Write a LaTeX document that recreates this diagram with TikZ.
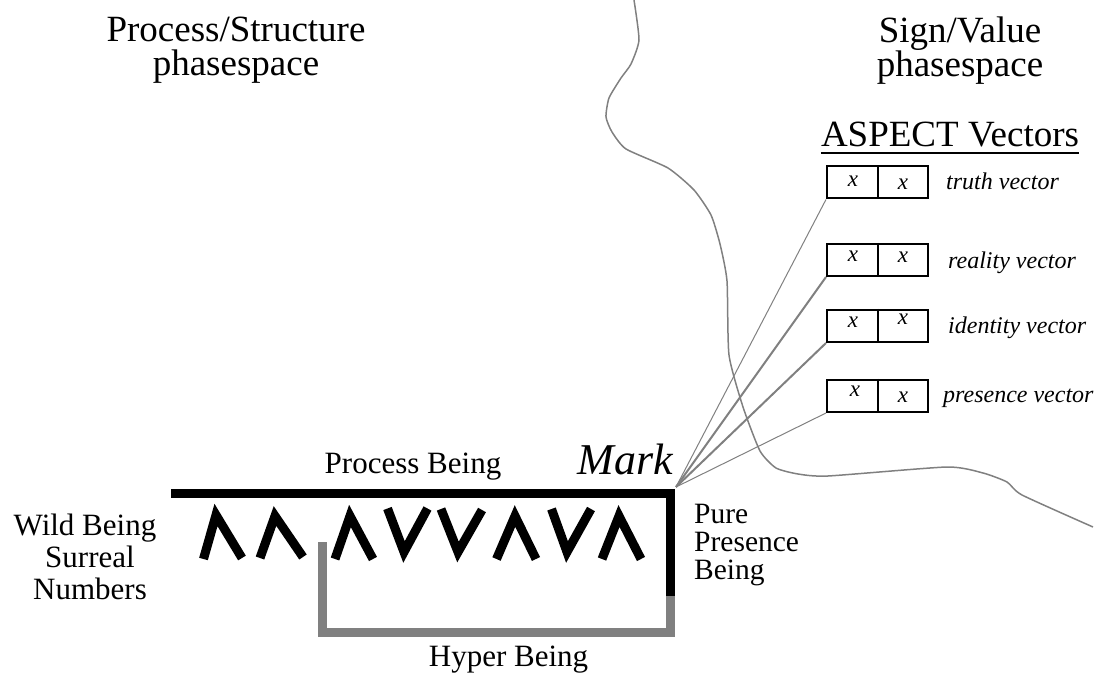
\documentclass[tikz,border=0pt]{standalone}
\usepackage{fontspec}
\setmainfont{Liberation Serif}
\begin{document}
\definecolor{lg}{gray}{0.5}
\begin{tikzpicture}[x=1pt,y=-1pt,
  head/.style={inner sep=0pt, anchor=base, font=\fontsize{37}{37}\selectfont},
  txt/.style={inner sep=0pt, anchor=base, font=\fontsize{31}{31}\selectfont},
  vlab/.style={inner sep=0pt, anchor=base west, font=\fontsize{24}{24}\selectfont\itshape},
  xv/.style={inner sep=0pt, anchor=base, font=\fontsize{23}{23}\selectfont\itshape},
  vbox/.style={draw, line width=2pt, minimum width=101pt, minimum height=32pt, inner sep=0pt},
  chev/.style={line width=9pt, line join=miter, line cap=butt},
  barline/.style={line width=9pt, line join=miter, line cap=butt},
  wave/.style={lg, line width=1.5pt, line join=round},
  conn/.style={lg}
]
\useasboundingbox (0,0) rectangle (1104,676);

% headers
\node[head] (ps1) at (236,42) {Process/Structure};
\node[head] (ps2) at (236,76) {phasespace};
\node[head] (sv1) at (960,43) {Sign/Value};
\node[head] (sv2) at (960,77) {phasespace};
\node[head] (asp) at (950,147) {ASPECT Vectors};
\draw[line width=2.3pt] ([yshift=-6pt]asp.base west) -- ([yshift=-6pt]asp.base east);

% wavy boundary
\draw[wave] plot[smooth, tension=0.35] coordinates {
  (634,0) (639,40) (631,64) (621,78) (609,98) (606,117) (612,132) (626,149)
  (668,168) (694,190) (711,215) (720,244) (727,281) (729,355) (743,407)
  (760,451) (776,468) (798,474) (828,476) (947,467) (983,473) (1007,482)
  (1022,495) (1093,527)};

% vector boxes
\node[vbox] (b1) at (877.5,182.5) {};
\node[vbox] (b2) at (877.5,260) {};
\node[vbox] (b3) at (877.5,326) {};
\node[vbox] (b4) at (877.5,396) {};
\foreach \b in {b1,b2,b3,b4} {\draw[line width=2pt] (\b.north) -- (\b.south);}

\node[xv] (x1a) at (853,187) {x};
\node[xv] (x1b) at (903,190) {x};
\node[xv] (x2a) at (853,262) {x};
\node[xv] (x2b) at (903,263) {x};
\node[xv] (x3a) at (853,328) {x};
\node[xv] (x3b) at (903,325) {x};
\node[xv] (x4a) at (855,397) {x};
\node[xv] (x4b) at (903,403) {x};

\node[vlab] (l1) at (946,190) {truth vector};
\node[vlab] (l2) at (948,269) {reality vector};
\node[vlab] (l3) at (948,334) {identity vector};
\node[vlab] (l4) at (943,403) {presence vector};

% Mark and connectors
\node[inner sep=0pt, anchor=base, font=\fontsize{44}{44}\selectfont\itshape] (mk) at (625,475) {Mark};
\coordinate (m) at (676,487);
\draw[conn, line width=1pt] (m) -- (b1.south west);
\draw[conn, line width=2pt] (m) -- (b2.south west);
\draw[conn, line width=2pt] (m) -- (b3.south west);
\draw[conn, line width=1pt] (m) -- (b4.south west);

% bars
\draw[barline, lg] (322.5,542) -- (322.5,632) -- (670.5,632) -- (670.5,595);
\draw[barline] (171,493.5) -- (670.5,493.5) -- (670.5,596);

% chevrons
\draw[chev] (203.5,559) -- (216,515) -- (242,558);
\draw[chev] (260,558) -- (275,516) -- (303,557);
\draw[chev] (335,559) -- (350,516) -- (373,559);
\draw[chev] (387.5,508.5) -- (404,552) -- (427.5,508.5);
\draw[chev] (441,509) -- (458,552) -- (482,510);
\draw[chev] (496.5,559) -- (515,516) -- (536,559);
\draw[chev] (551.5,509) -- (567,552) -- (591,509);
\draw[chev] (602,559) -- (619,516) -- (641,559);

% labels
\node[txt] (pb) at (413,473) {Process Being};
\node[txt, anchor=base west, font=\fontsize{29.5}{29.5}\selectfont] (pp1) at (694,523) {Pure};
\node[txt, anchor=base west, font=\fontsize{29.5}{29.5}\selectfont] (pp2) at (694,551) {Presence};
\node[txt, anchor=base west, font=\fontsize{29.5}{29.5}\selectfont] (pp3) at (694,579) {Being};
\node[txt] (wb1) at (85,535) {Wild Being};
\node[txt] (wb2) at (90,567) {Surreal};
\node[txt] (wb3) at (90,599) {Numbers};
\node[txt] (hb) at (508.5,666) {Hyper Being};
\end{tikzpicture}
\end{document}
